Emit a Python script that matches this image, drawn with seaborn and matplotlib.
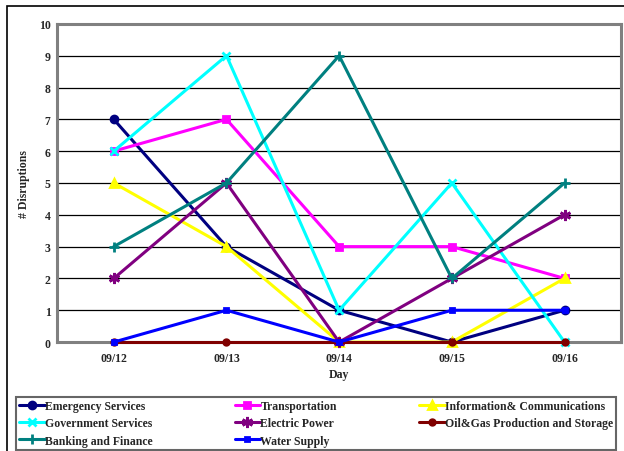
import matplotlib
matplotlib.use("Agg")
import matplotlib.pyplot as plt
import matplotlib.patches as patches
import pandas as pd
import seaborn as sns

days = ["09/12", "09/13", "09/14", "09/15", "09/16"]
sectors = [
    "Emergency Services",
    "Transportation",
    "Information& Communications",
    "Government Services",
    "Electric Power",
    "Oil&Gas Production and Storage",
    "Banking and Finance",
    "Water Supply",
]
emergency = [7, 3, 1, 0, 1]
transportation = [6, 7, 3, 3, 2]
information = [5, 3, 0, 0, 2]
government = [6, 9, 1, 5, 0]
electric = [2, 5, 0, 2, 4]
oil_gas = [0, 0, 0, 0, 0]
banking = [3, 5, 9, 2, 5]
water = [0, 1, 0, 1, 1]
values = [emergency, transportation, information, government,
          electric, oil_gas, banking, water]

colors = ["#000080", "#FF00FF", "#FFFF00", "#00FFFF",
          "#800080", "#800000", "#008080", "#0000FF"]
markers = ["o", "s", "^", "x", (6, 2, 0), "o", "+", "s"]
msizes = [5, 4.5, 6, 6, 8, 4, 7, 3.5]

rows = []
for s, vals in zip(sectors, values):
    for d, v in zip(days, vals):
        rows.append({"Day": d, "Sector": s, "Disruptions": v})
df = pd.DataFrame(rows)

sns.set_style("white")
plt.rcParams["font.family"] = ["Liberation Serif", "DejaVu Serif"]
plt.rcParams["font.weight"] = "bold"

fig = plt.figure(figsize=(6.24, 4.52), dpi=100)
ax = fig.add_axes([0.092, 0.241, 0.903, 0.704])

for i, s in enumerate(sectors):
    sub = df[df["Sector"] == s]
    sns.lineplot(data=sub, x="Day", y="Disruptions", ax=ax, color=colors[i],
                 marker=markers[i], markersize=msizes[i], linewidth=2.2,
                 markeredgecolor=colors[i], markeredgewidth=2, label=s,
                 sort=False, legend=False, clip_on=False, zorder=3 + i * 0.01)

ax.set_xlim(-0.5, 4.5)
ax.set_ylim(0, 10)
ax.set_yticks(range(0, 11))
ax.yaxis.grid(True, color="black", linewidth=0.9)
ax.set_axisbelow(True)
for side in ["top", "right", "left", "bottom"]:
    ax.spines[side].set_color("#808080")
    ax.spines[side].set_linewidth(2.2)
ax.tick_params(axis="y", length=3, width=1, color="black", labelsize=8.5, pad=2)
ax.tick_params(axis="x", length=0, labelsize=8.5, pad=7)
for lab in ax.get_xticklabels() + ax.get_yticklabels():
    lab.set_fontweight("bold")
ax.set_xlabel("Day", fontsize=8.5, fontweight="bold", labelpad=3)
ax.set_ylabel("# Disruptions", fontsize=8.5, fontweight="bold", labelpad=6)

handles, labels = ax.get_legend_handles_labels()
order = [0, 3, 6, 1, 4, 7, 2, 5]
leg = fig.legend([handles[i] for i in order], [labels[i] for i in order],
                 ncol=3, loc="upper left",
                 bbox_to_anchor=(16 / 624, 0, 600 / 624, 1 - 398 / 452),
                 mode="expand", frameon=True, fancybox=False,
                 prop={"size": 8.5, "weight": "bold"},
                 handlelength=2.2, handletextpad=0.0, labelspacing=0.45,
                 borderpad=0.25, borderaxespad=0, columnspacing=1)
leg.get_frame().set_edgecolor("#404040")
leg.get_frame().set_linewidth(1.5)

fig.patches.append(patches.Rectangle((7 / 624, -0.1), 1.2, 1 - 7 / 452 + 0.1,
                                     transform=fig.transFigure, fill=False,
                                     edgecolor="black", linewidth=1.2))

fig.savefig("out.png", dpi=100)
